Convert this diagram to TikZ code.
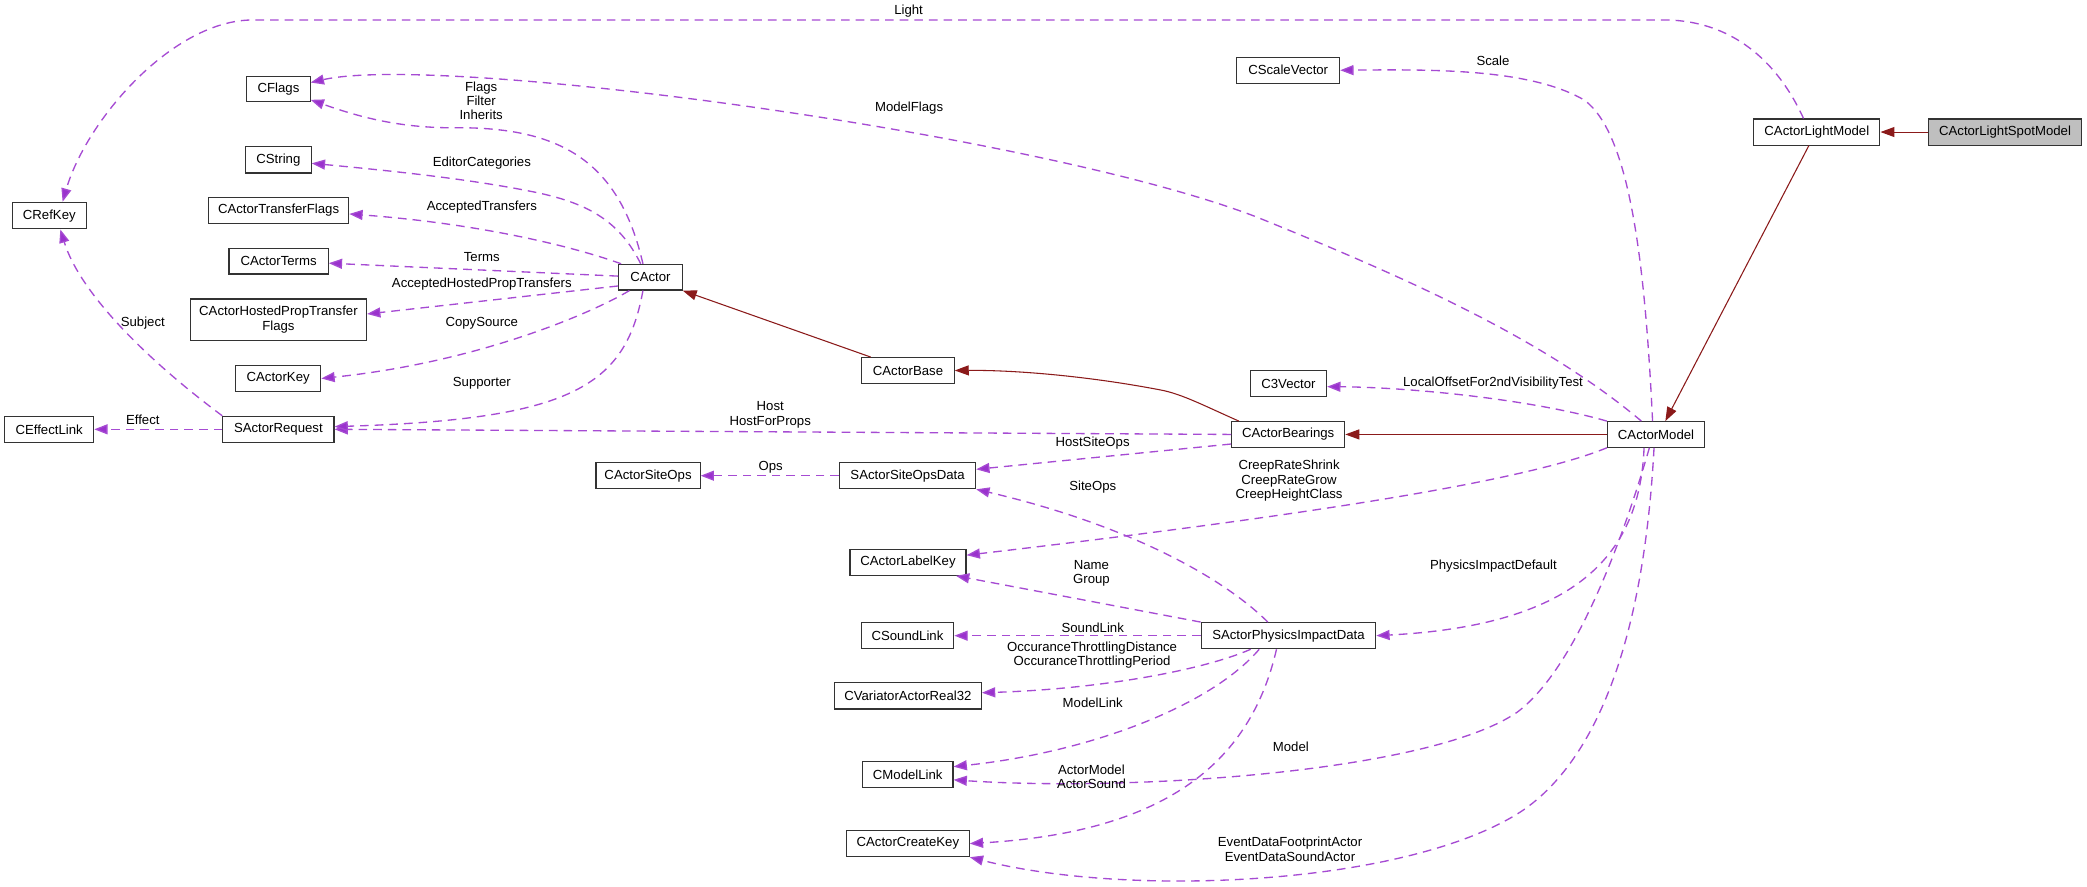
\documentclass[tikz,border=0pt]{standalone}
\usepackage{fontspec}
\setmainfont{Liberation Sans}
\usetikzlibrary{arrows.meta}
\definecolor{purp}{HTML}{9A32CD}
\definecolor{fb}{HTML}{8B1A1A}
\definecolor{boxline}{HTML}{333333}
\begin{document}
\begin{tikzpicture}[x=1pt,y=-1pt, font=\fontsize{9.9}{10.8}\selectfont,
 cls/.style={draw=boxline, fill=white, line width=0.85pt, inner sep=0pt, align=center},
 lbl/.style={inner sep=0pt, align=center},
 uses/.style={draw=purp!88!white, line width=1pt, dash pattern=on 6.5pt off 4.5pt, -{Triangle[length=10pt,width=7.5pt,fill=purp]}},
 inh/.style={draw=fb, line width=0.8pt, -{Triangle[length=10.5pt,width=7.5pt,fill=fb]}}]
\fill[white] (0,0) rectangle (1568,666);
\useasboundingbox (0,0) rectangle (1568,666);
% classes
\node[cls, minimum width=47.5pt, minimum height=18.8pt] (flags) at (209.25,67) {CFlags};
\node[cls, minimum width=55.3pt, minimum height=20pt] (refkey) at (37.05,162) {CRefKey};
\node[cls, minimum width=49.3pt, minimum height=20pt] (string) at (209.15,120) {CString};
\node[cls, minimum width=105.4pt, minimum height=19.3pt] (transfer) at (209.3,158.15) {CActorTransferFlags};
\node[cls, minimum width=74.6pt, minimum height=19.3pt] (terms) at (209.3,196.25) {CActorTerms};
\node[cls, minimum width=47.7pt, minimum height=19.3pt] (actor) at (488.65,208.25) {CActor};
\node[cls, minimum width=132.4pt, minimum height=31pt] (hosted) at (209.2,240.1) {CActorHostedPropTransfer\\Flags};
\node[cls, minimum width=64pt, minimum height=19.3pt] (key) at (209,284.35) {CActorKey};
\node[cls, minimum width=67pt, minimum height=19.5pt] (effect) at (36.9,322.55) {CEffectLink};
\node[cls, minimum width=83.5pt, minimum height=19.5pt] (request) at (209.15,322.55) {SActorRequest};
\node[cls, minimum width=78.2pt, minimum height=19.6pt] (siteops) at (486.9,357.4) {CActorSiteOps};
\node[cls, minimum width=69.4pt, minimum height=19.3pt] (base) at (682.2,278.35) {CActorBase};
\node[cls, minimum width=102.2pt, minimum height=19.6pt] (sitedata) at (681.9,357.4) {SActorSiteOpsData};
\node[cls, minimum width=85pt, minimum height=19.2pt] (bearings) at (967.8,326.4) {CActorBearings};
\node[cls, minimum width=73pt, minimum height=19.2pt] (model) at (1244.2,326.4) {CActorModel};
\node[cls, minimum width=57.3pt, minimum height=19.5pt] (vec3) at (968.05,288.25) {C3Vector};
\node[cls, minimum width=77.3pt, minimum height=19.6pt] (scale) at (967.85,52.8) {CScaleVector};
\node[cls, minimum width=94.8pt, minimum height=19.6pt] (light) at (1365,99.2) {CActorLightModel};
\node[cls, fill={rgb,255:red,191;green,191;blue,191}, minimum width=114.8pt, minimum height=19.6pt] (spot) at (1506.4,99.2) {CActorLightSpotModel};
\node[cls, minimum width=87.2pt, minimum height=19.2pt] (label) at (682.2,422.6) {CActorLabelKey};
\node[cls, minimum width=69.6pt, minimum height=19.6pt] (sound) at (681.8,477.6) {CSoundLink};
\node[cls, minimum width=131.1pt, minimum height=19.6pt] (phys) at (968.05,477.6) {SActorPhysicsImpactData};
\node[cls, minimum width=110.4pt, minimum height=19.7pt] (variator) at (682.1,522.85) {CVariatorActorReal32};
\node[cls, minimum width=68pt, minimum height=19.2pt] (modellink) at (682,581.9) {CModelLink};
\node[cls, minimum width=92.2pt, minimum height=19.6pt] (create) at (682.1,633.8) {CActorCreateKey};
% inheritance
\draw[inh] (spot.west) -- (light.east);
\draw[inh] ([xshift=-6pt]light.south) -- ([xshift=7pt]model.north);
\draw[inh] (model.west) -- (bearings.east);
\draw[inh] ([xshift=-37pt]bearings.north) .. controls (905,305) and (888,296) .. (872,293) .. controls (820,283) and (765,278) .. (base.east);
\draw[inh] ([xshift=-28pt]base.north) -- (actor.south east);
% usage
\draw[uses] ([xshift=-10pt]light.north) .. controls (1335,45) and (1300,15) .. (1250,15) -- (190,15) .. controls (130,15) and (65,90) .. ([xshift=10pt]refkey.north);
\draw[uses] ([xshift=-11pt]model.north) .. controls (1160,255) and (1060,210) .. (944,163) .. controls (780,100) and (330,40) .. ([yshift=5pt]flags.east);
\draw[uses] ([xshift=-2.6pt]model.north) .. controls (1236,200) and (1225,100) .. (1190,75) .. controls (1150,52) and (1080,52) .. (scale.east);
\draw[uses] (model.north west) .. controls (1150,300) and (1060,291) .. ([yshift=-2.25pt]vec3.east);
\draw[uses] (model.south west) .. controls (1150,360) and (1000,385) .. ([yshift=5.5pt]label.east);
\draw[uses] ([xshift=-9pt]model.south) .. controls (1232,420) and (1180,470) .. (phys.east);
\draw[uses] ([xshift=-5pt]model.south) .. controls (1215,420) and (1180,505) .. (1140,535) .. controls (1075,580) and (850,595) .. ([yshift=-4pt]modellink.east);
\draw[uses] ([xshift=-1.5pt]model.south) .. controls (1235,480) and (1200,570) .. (1144.5,608.6) .. controls (1060,665) and (850,675) .. (create.south east);
\draw[uses] (bearings.west) -- (request.east);
\draw[uses] ([yshift=-7.2pt]bearings.west) -- ([yshift=4.8pt]sitedata.east);
\draw[uses] (sitedata.west) -- (siteops.east);
\draw[uses] ([xshift=-15.5pt]phys.north) .. controls (920,435) and (850,395) .. (sitedata.south east);
\draw[uses] (phys.north west) -- ([xshift=-8pt]label.south east);
\draw[uses] (phys.west) -- (sound.east);
\draw[uses] ([xshift=-28.4pt]phys.south) .. controls (900,505) and (820,518) .. ([yshift=2.4pt]variator.east);
\draw[uses] ([xshift=-22pt]phys.south) .. controls (910,530) and (820,565) .. ([yshift=5.9pt]modellink.east);
\draw[uses] ([xshift=-9pt]phys.south) .. controls (940,570) and (880,625) .. (create.east);
\draw[uses] ([xshift=-5.6pt]actor.north) .. controls (465,120) and (420,95) .. (340,96) .. controls (300,96) and (270,88) .. ([yshift=-8pt]flags.east);
\draw[uses] ([xshift=-7.3pt]actor.north) .. controls (465,165) and (440,152) .. (400,144) .. controls (350,134) and (290,128) .. ([yshift=-2.7pt]string.east);
\draw[uses] ([xshift=-22pt]actor.north) .. controls (430,185) and (360,168) .. ([yshift=-2.6pt]transfer.east);
\draw[uses] ([yshift=0.8pt]actor.west) -- ([yshift=-1.5pt]terms.east);
\draw[uses] ([yshift=-6.6pt]actor.west) -- ([yshift=4.2pt]hosted.east);
\draw[uses] ([xshift=-15.75pt]actor.south) .. controls (445,235) and (360,272) .. (key.east);
\draw[uses] ([xshift=-5.6pt]actor.south) .. controls (470,290) and (430,315) .. ([yshift=2pt]request.east);
\draw[uses] (request.north west) .. controls (110,270) and (60,220) .. ([xshift=8.3pt]refkey.south);
\draw[uses] (request.west) -- (effect.east);
% labels
\node[lbl] (l1) at (682.6,8.3) {Light};
\node[lbl] (l2) at (683,81.4) {ModelFlags};
\node[lbl] (l3) at (1121.7,45.6) {Scale};
\node[lbl] (l4) at (1121.7,288) {LocalOffsetFor2ndVisibilityTest};
\node[lbl] (l5) at (968.5,361.3) {CreepRateShrink\\CreepRateGrow\\CreepHeightClass};
\node[lbl] (l6) at (1122,425.5) {PhysicsImpactDefault};
\node[lbl] (l7) at (969.8,561) {Model};
\node[lbl] (l8) at (969.2,638.2) {EventDataFootprintActor\\EventDataSoundActor};
\node[lbl] (l9) at (578.7,311.8) {Host\\HostForProps};
\node[lbl] (l10) at (820.9,332.6) {HostSiteOps};
\node[lbl] (l11) at (579,351.4) {Ops};
\node[lbl] (l12) at (821,366) {SiteOps};
\node[lbl] (l13) at (820,430.7) {Name\\Group};
\node[lbl] (l14) at (821,471.6) {SoundLink};
\node[lbl] (l15) at (820.5,492.3) {OccuranceThrottlingDistance\\OccuranceThrottlingPeriod};
\node[lbl] (l16) at (821,527.7) {ModelLink};
\node[lbl] (l17) at (820,583.7) {ActorModel\\ActorSound};
\node[lbl] (l18) at (361.5,75.7) {Flags\\Filter\\Inherits};
\node[lbl] (l19) at (362,122.7) {EditorCategories};
\node[lbl] (l20) at (362,155.8) {AcceptedTransfers};
\node[lbl] (l21) at (362,192.8) {Terms};
\node[lbl] (l22) at (362,213.6) {AcceptedHostedPropTransfers};
\node[lbl] (l23) at (362,242.9) {CopySource};
\node[lbl] (l24) at (362,288) {Supporter};
\node[lbl] (l25) at (107.3,242.9) {Subject};
\node[lbl] (l26) at (107.3,315.5) {Effect};
\end{tikzpicture}
\end{document}
